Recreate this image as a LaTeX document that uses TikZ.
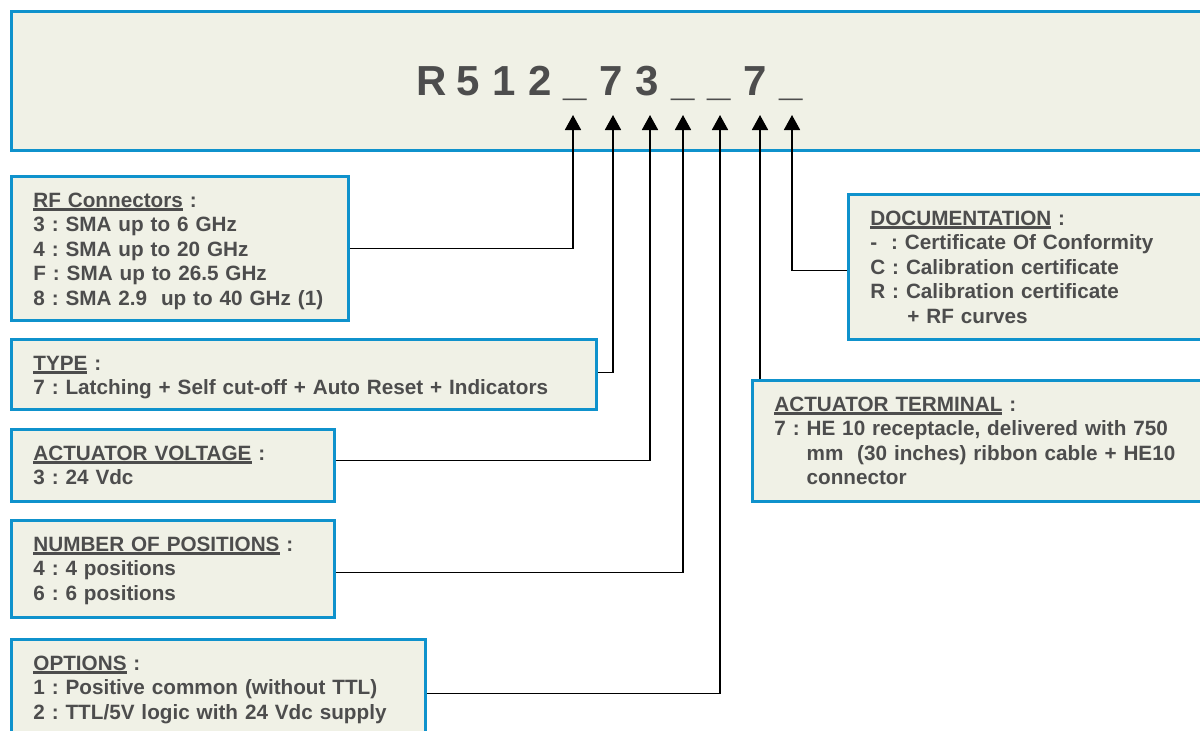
\documentclass[tikz,border=0pt]{standalone}
\usepackage{fontspec}
\setmainfont{Liberation Sans}
\usepackage{xcolor}
\usepackage{tikz}
\usetikzlibrary{arrows.meta, positioning, calc}
\definecolor{panelfill}{HTML}{F0F1E6}
\definecolor{panelblue}{HTML}{0F92CC}
\definecolor{inkgray}{HTML}{4D4D4D}
\newcommand{\headul}[1]{\setbox0\hbox{#1}\rlap{\rule[-3.5pt]{\wd0}{2.5pt}}\box0\relax}
\frenchspacing

\begin{document}
\begin{tikzpicture}[x=1pt, y=-1pt,
		panel/.style={draw=panelblue, fill=panelfill, line width=2.8pt, anchor=north west, align=left,
			inner xsep=22pt, inner ysep=15pt, text height=16pt, text=inkgray, font=\fontsize{20.7}{24.5}\selectfont\bfseries\frenchspacing},
		codechar/.style={anchor=base, inner sep=0pt, text=inkgray, font=\fontsize{42}{42}\selectfont\bfseries},
		link/.style={line width=1.8pt, -{Triangle[length=15pt, width=16pt]}}]
		\useasboundingbox (0,0) rectangle (1200,731);
		
		% reference code
		\node[panel, inner sep=0pt, minimum width=1220pt, minimum height=139pt] (code) at (10,10) {};
		\foreach \c [count=\i from 0] in {R,5,1,2,\_,7,3,\_,\_,7,\_}
			\node[codechar] (c\i) at ({432+35.9*\i},95) {\c};
		\coordinate (tip1) at (573,115);
		\coordinate (tip2) at (613,115);
		\coordinate (tip3) at (650,115);
		\coordinate (tip4) at (683,115);
		\coordinate (tip5) at (720,115);
		\coordinate (tip6) at (760,115);
		\coordinate (tip7) at (792,115);
		
		% left column
		\node[panel, text width=293pt, text depth=98pt] (rf) at (10,175) {\headul{RF Connectors} :\\ 3 : SMA up to 6 GHz\\ 4 : SMA up to 20 GHz\\ F : SMA up to 26.5 GHz\\ \mbox{8 : SMA 2.9~~up to 40 GHz (1)}};
		\node[panel, text width=541pt, text depth=24pt] (type) at (10,338) {\headul{TYPE} :\\ 7 : Latching + Self cut-off + Auto Reset + Indicators};
		\node[panel, text width=279pt, text depth=26pt] (volt) at (10,428) {\headul{ACTUATOR VOLTAGE} :\\ 3 : 24 Vdc};
		\node[panel, text width=279pt, text depth=51pt] (pos) at (10,519) {\headul{NUMBER OF POSITIONS} :\\ 4 : 4 positions\\ 6 : 6 positions};
		\node[panel, text width=370pt, text depth=51pt] (opt) at (10,638) {\headul{OPTIONS} :\\ 1 : Positive common (without TTL)\\ 2 : TTL/5V logic with 24 Vdc supply};
		
		% right column
		\node[panel, text width=400pt, text depth=99pt] (doc) at (847,193) {\headul{DOCUMENTATION} :\\ -~~: Certificate Of Conformity\\ C : Calibration certificate\\ R : Calibration certificate\\ \hspace*{37pt}+ RF curves};
		\node[panel, text width=420pt, text depth=75pt] (term) at (751,379) {\headul{ACTUATOR TERMINAL} :\\ 7 : HE 10 receptacle, delivered with 750\\ \phantom{7 : }mm~~(30 inches) ribbon cable + HE10\\ \phantom{7 : }connector};
		
		\draw[link] (rf.east) -| (tip1);
		\draw[link] ([yshift=2pt]type.east) -| (tip2);
		\draw[link] ([yshift=5pt]volt.east) -| (tip3);
		\draw[link] ([yshift=-3.5pt]pos.east) -| (tip4);
		\draw[link] ([yshift=-5.5pt]opt.east) -| (tip5);
		\draw[link] (tip6 |- term.north) -- (tip6);
		\draw[link] ([yshift=-3.5pt]doc.west) -| (tip7);
\end{tikzpicture}
\end{document}
